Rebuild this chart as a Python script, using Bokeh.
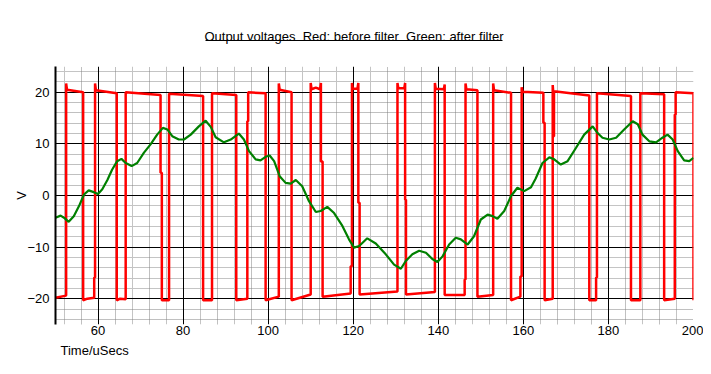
from bokeh.plotting import figure
from bokeh.layouts import column
from bokeh.models import Range1d, FixedTicker, Grid, Label, BoxAnnotation, LinearAxis, Title
from bokeh.embed import file_html
from bokeh.resources import INLINE

# ---------------- data ----------------
title_text = "Output voltages  Red: before filter  Green: after filter"
x_label = "Time/uSecs"
y_label = "V"

x_ticks = [60, 80, 100, 120, 140, 160, 180, 200]
y_ticks = [-20, -10, 0, 10, 20]
x_major_grid = [60, 80, 100, 120, 140, 160, 180, 200]
x_minor_solid = [52, 68, 76, 84, 92, 108, 116, 124, 132, 148, 156, 164, 172, 188, 196]
x_minor_dotted = [56, 64, 72, 88, 96, 104, 112, 128, 136, 144, 152, 168, 176, 184, 192]
y_major_grid = [-20, -10, 0, 10, 20]
y_minor_solid = [24, 22, -2, -4, -6, -8, -12, -14, -16, -18]
y_minor_dotted = [18, 16, 14, 12, 8, 6, 4, 2, -22, -24]

# Red: before filter (switching waveform, vertices in time order)
red_t = [50.0, 52.5,
         52.5, 52.7, 56.5,
         56.5, 57.5, 59.1,
         59.1, 59.3, 59.3, 59.5, 64.4,
         64.4, 65.2, 66.5,
         66.5, 74.7,
         74.7, 75.0, 75.0, 76.7,
         76.7, 84.7,
         84.7, 86.8,
         86.8, 92.5,
         92.5, 95.1,
         95.1, 95.3, 95.3, 99.4,
         99.4, 102.5,
         102.5, 102.7, 105.5,
         105.5, 110.0,
         110.0, 110.2, 111.2, 112.2, 112.4,
         112.4, 112.8, 112.8, 119.4,
         119.4, 119.7, 119.7, 119.9, 121.0, 121.2,
         121.2, 121.5, 121.5, 130.4,
         130.4, 130.6, 132.0, 132.2,
         132.2, 132.4, 132.4, 139.2,
         139.2, 139.4, 141.3, 141.5,
         141.5, 146.2,
         146.2, 146.4, 146.4, 146.6, 149.2,
         149.2, 152.9,
         152.9, 153.1, 157.1,
         157.1, 159.3,
         159.3, 159.6, 159.6, 159.8, 164.7,
         164.7, 165.0, 165.0, 166.9,
         166.9, 167.0, 167.0, 167.2, 167.2, 175.5,
         175.5, 177.1,
         177.1, 177.3, 177.3, 185.3,
         185.3, 187.5,
         187.5, 193.1,
         193.1, 195.6,
         195.6, 195.8, 195.8, 200.0,
         200.0]
red_v = [-19.8, -19.4,
         21.7, 20.5, 20.0,
         -20.3, -20.0, -19.8,
         -15.9, -15.9, 21.7, 20.4, 19.8,
         -20.3, -20.0, -20.1,
         20.0, 19.5,
         4.4, 4.4, -20.3, -20.3,
         19.7, 19.3,
         -20.3, -20.3,
         19.8, 19.5,
         -20.3, -20.0,
         14.4, 14.4, 20.0, 19.8,
         -20.3, -19.6,
         21.7, 20.5, 20.0,
         -20.3, -19.2,
         21.8, 20.6, 20.9, 20.6, 21.8,
         6.6, 6.6, -19.6, -19.0,
         -13.7, -13.7, 21.8, 20.7, 20.7, 21.8,
         -1.4, -1.4, -19.2, -18.6,
         21.8, 20.8, 20.8, 21.8,
         -0.8, -0.8, -19.2, -18.7,
         21.8, 20.7, 20.6, 21.5,
         -19.3, -19.3,
         -16.3, -16.3, 21.7, 20.6, 20.4,
         -19.6, -19.3,
         21.7, 20.4, 19.9,
         -20.3, -19.6,
         -15.7, -15.7, 21.0, 20.1, 19.9,
         14.1, 14.1, -20.3, -20.0,
         21.4, 20.3, 11.5, 11.5, 20.2, 19.4,
         -20.3, -20.3,
         -15.9, -15.9, 19.8, 19.3,
         -20.3, -20.3,
         19.8, 19.6,
         -20.3, -20.0,
         15.7, 15.7, 20.0, 19.8,
         -20.3]

# Green: after filter
green_t = [50.0, 51.2, 52.0, 53.1, 54.3, 55.5, 56.7, 57.8, 59.0, 60.0,
           61.0, 62.2, 63.3, 64.5, 65.5, 66.5, 67.9, 69.2, 70.8, 72.35,
           73.9, 75.25, 76.3, 77.45, 79.0, 80.2, 81.8, 83.7, 85.3, 86.5,
           87.65, 89.6, 91.2, 93.1, 94.3, 95.5, 97.05, 98.2, 99.4, 100.35,
           101.4, 102.7, 104.1, 105.3, 106.5, 108.0, 109.6, 111.2, 112.35, 113.9,
           115.5, 117.45, 119.0, 120.2, 121.4, 123.3, 125.3, 127.65, 129.6, 131.2,
           132.35, 133.9, 135.5, 137.1, 138.6, 139.8, 141.0, 142.55, 144.1, 145.3,
           146.9, 148.4, 150.0, 151.6, 152.75, 153.9, 155.5, 157.1, 158.6, 160.2,
           161.8, 162.9, 164.5, 166.1, 167.25, 168.8, 170.4, 172.35, 174.3, 176.3,
           177.45, 178.6, 180.2, 181.8, 183.7, 185.7, 186.9, 188.0, 189.6, 191.2,
           192.7, 193.9, 195.1, 196.3, 197.8, 199.0, 200.0]
green_v = [-4.3, -3.9, -4.3, -5.1, -4.0, -2.1, 0.2, 1.0, 0.65, 0.3,
           1.2, 3.0, 5.0, 6.65, 7.1, 6.3, 5.7, 6.3, 8.3, 9.9,
           11.8, 13.1, 12.8, 11.5, 10.85, 10.85, 11.8, 13.4, 14.5, 13.3,
           11.3, 10.3, 10.85, 12.0, 10.85, 8.6, 7.0, 6.8, 7.5, 7.75,
           6.65, 3.75, 2.45, 2.3, 3.0, 1.8, -1.1, -3.2, -3.0, -2.2,
           -3.4, -5.9, -8.5, -10.1, -9.8, -8.3, -9.3, -11.4, -13.4, -14.2,
           -12.7, -11.4, -10.7, -11.1, -12.3, -12.9, -11.8, -9.5, -8.2, -8.5,
           -9.5, -7.9, -4.65, -3.7, -4.0, -4.5, -3.0, -0.1, 1.5, 0.85,
           1.6, 3.3, 6.3, 7.4, 7.0, 6.0, 6.65, 9.2, 11.8, 13.4,
           12.1, 11.2, 10.85, 11.2, 12.8, 14.4, 13.8, 11.8, 10.5, 10.3,
           11.2, 11.8, 10.85, 8.6, 6.8, 6.65, 7.3]

FONT = "Liberation Sans"

# ---------------- title strip (own small figure, pixel units) ----------------
top = figure(width=703, height=66, output_backend="svg", toolbar_location=None,
             x_range=Range1d(55, 693), y_range=Range1d(66, 0),
             x_axis_type=None, y_axis_type=None,
             min_border_left=55, min_border_right=10, min_border_top=0, min_border_bottom=0)
top.title = None
top.outline_line_color = None
top.grid.visible = False
shown_title = title_text.replace("  ", "\u00a0 ")
top.add_layout(Label(x=353.5, y=35.5, text=shown_title, text_font=FONT,
                     text_font_size="13px", text_align="center",
                     text_baseline="alphabetic", text_color="black"))
top.add_layout(BoxAnnotation(left=205, right=502, top=39.5, bottom=40.6,
                             fill_color="black", fill_alpha=1.0, line_color=None))

# ---------------- main chart ----------------
p = figure(width=703, height=300, output_backend="svg", toolbar_location=None,
           x_range=Range1d(50, 200), y_range=Range1d(-25, 25),
           x_axis_type=None, y_axis_type=None,
           min_border_left=55, min_border_right=10, min_border_top=0, min_border_bottom=42)
p.outline_line_color = None
p.background_fill_color = "white"
p.border_fill_color = "white"


def add_grid(dim, ticks, color, dash="solid", width=1):
    g = Grid(dimension=dim, ticker=FixedTicker(ticks=ticks),
             grid_line_color=color, grid_line_width=width, grid_line_dash=dash)
    p.add_layout(g)


add_grid(0, x_minor_solid, "#c4c4c4")
add_grid(1, y_minor_solid, "#c4c4c4")
add_grid(0, x_minor_dotted, "#808080", "1 1")
add_grid(1, y_minor_dotted, "#808080", "1 1")
add_grid(0, x_major_grid, "black")
add_grid(1, y_major_grid, "black")

xaxis = LinearAxis(ticker=FixedTicker(ticks=x_ticks),
                   axis_line_color=None, major_tick_line_color=None, minor_tick_line_color=None,
                   major_label_text_font=FONT, major_label_text_font_size="13px",
                   major_label_text_color="black", major_label_standoff=-5)
p.add_layout(xaxis, "below")
yaxis = LinearAxis(ticker=FixedTicker(ticks=y_ticks),
                   axis_line_color="black", axis_line_width=2,
                   major_tick_line_color=None, minor_tick_line_color=None,
                   major_label_text_font=FONT, major_label_text_font_size="13px",
                   major_label_text_color="black", major_label_standoff=0,
                   axis_label=y_label, axis_label_text_font=FONT,
                   axis_label_text_font_size="13px", axis_label_text_font_style="normal",
                   axis_label_text_color="black", axis_label_standoff=-5)
p.add_layout(yaxis, "left")
p.add_layout(Title(text=x_label, align="left", offset=5, standoff=7,
                   text_font=FONT, text_font_size="13px", text_font_style="normal",
                   text_color="black"), "below")

p.line(red_t, red_v, line_color="#ff0000", line_width=2.5)
p.line(green_t, green_v, line_color="#008000", line_width=2.2)

layout = column(top, p, spacing=0)
open("out.html", "w").write(file_html(layout, INLINE))
